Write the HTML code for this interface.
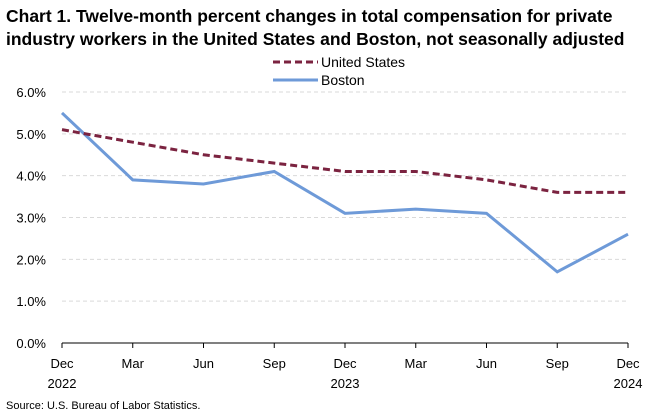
<!DOCTYPE html>
<html><head><meta charset="utf-8"><style>
body{margin:0;background:#fff;font-family:"Liberation Sans",Arial,sans-serif;}
svg text{font-family:"Liberation Sans",Arial,sans-serif;}
</style></head><body>
<svg id="chart" width="668" height="413" xmlns="http://www.w3.org/2000/svg">
<text x="6" y="22" font-size="17.5" font-weight="bold" fill="#000">Chart 1. Twelve-month percent changes in total compensation for private</text>
<text x="6" y="45" font-size="17.5" font-weight="bold" fill="#000">industry workers in the United States and Boston, not seasonally adjusted</text>
<g>
<line x1="273" y1="62" x2="318" y2="62" stroke="#7b2340" stroke-width="3" stroke-dasharray="7,4"/>
<text x="321" y="67" font-size="14">United States</text>
<line x1="273" y1="80" x2="318" y2="80" stroke="#6e9ad8" stroke-width="3"/>
<text x="321" y="85" font-size="14">Boston</text>
</g>
<g id="grid"></g><g id="axes"></g><g id="series"></g>
<text x="6" y="409" font-size="11">Source: U.S. Bureau of Labor Statistics.</text>
</svg>
<script>
const months = ["Dec","Mar","Jun","Sep","Dec","Mar","Jun","Sep","Dec"];
const years = ["2022","","","","2023","","","","2024"];
const usValues = [5.1,4.8,4.5,4.3,4.1,4.1,3.9,3.6,3.6];
const bostonValues = [5.5,3.9,3.8,4.1,3.1,3.2,3.1,1.7,2.6];
const yTicks = [0,1,2,3,4,5,6];
const NS="http://www.w3.org/2000/svg";
const x0=62,x1=628,yTop=92,yBot=343;
const xs=i=>x0+(x1-x0)*i/(months.length-1);
const ys=v=>yBot-(yBot-yTop)*v/6;
function mk(t,a,p){const e=document.createElementNS(NS,t);for(const k in a)e.setAttribute(k,a[k]);p.appendChild(e);return e;}
const grid=document.getElementById('grid'),axes=document.getElementById('axes'),ser=document.getElementById('series');
yTicks.forEach(v=>{
 if(v>0){const g=mk('line',{x1:x0,x2:x1,y1:ys(v),y2:ys(v),stroke:'#d9d9d9','stroke-dasharray':'4,3'},grid);
 
 }
 const t=mk('text',{x:x0-16,y:ys(v)+5,'font-size':13,'text-anchor':'end'},axes);t.textContent=v.toFixed(1)+'%';
 
 
});
const ax=mk('line',{x1:x0,x2:x1,y1:yBot,y2:yBot,stroke:'#000'},axes);


months.forEach((m,i)=>{
 const tk=mk('line',{x1:xs(i),x2:xs(i),y1:yBot,y2:yBot+5,stroke:'#000'},axes);
 
 
 const t=mk('text',{x:xs(i),y:yBot+25,'font-size':13,'text-anchor':'middle'},axes);t.textContent=m;
 
 
 if(years[i]){const y=mk('text',{x:xs(i),y:yBot+45,'font-size':13,'text-anchor':'middle'},axes);y.textContent=years[i];
 
 }
});
const pts=a=>a.map((v,i)=>xs(i)+','+ys(v)).join(' ');
const b=mk('polyline',{points:pts(bostonValues),fill:'none',stroke:'#6e9ad8','stroke-width':3},ser);


const u=mk('polyline',{points:pts(usValues),fill:'none',stroke:'#7b2340','stroke-width':3,'stroke-dasharray':'7,4'},ser);


</script>
</body></html>
